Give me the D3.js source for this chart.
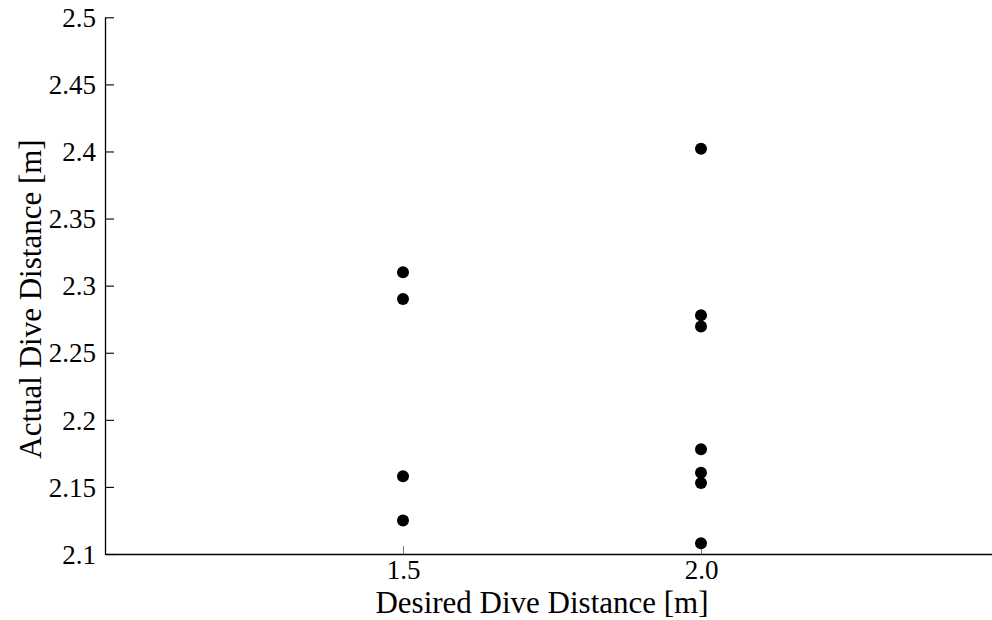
<!DOCTYPE html>
<html><head><meta charset="utf-8">
<script src="https://cdn.jsdelivr.net/npm/d3@7"></script>
<style>body{margin:0;background:#fff}svg{display:block}
svg text{font-family:'Liberation Serif','Times New Roman',serif;fill:#000}</style>
</head><body>
<svg id="c" width="992" height="620"></svg>
<script>
const desired15 = [2.31, 2.29, 2.158, 2.125];
const desired20 = [2.402, 2.278, 2.2695, 2.178, 2.1605, 2.153, 2.108];
const groups = [1.5, 2.0];
const xTickLabels = ["1.5", "2.0"];
const yTicks = [2.1, 2.15, 2.2, 2.25, 2.3, 2.35, 2.4, 2.45, 2.5];
const yTickLabels = ["2.1", "2.15", "2.2", "2.25", "2.3", "2.35", "2.4", "2.45", "2.5"];
const points = [
  ...desired15.map(v => ({x: groups[0], y: v})),
  ...desired20.map(v => ({x: groups[1], y: v}))
];

const svg = d3.select("#c");
const font = "'Liberation Serif','Times New Roman',serif";
const x = d3.scaleLinear().domain([1.0, 2.5]).range([105, 999]);
const y = d3.scaleLinear().domain([2.1, 2.5]).range([554, 17.3]);

// y axis
const ya = svg.append("g").attr("transform", "translate(105,0)")
  .call(d3.axisLeft(y).tickValues(yTicks).tickFormat((d, i) => yTickLabels[i]).tickSizeInner(-9).tickSizeOuter(0).tickPadding(9));
ya.attr("font-family", null).attr("font-size", null);
ya.select(".domain").attr("stroke", "#000").attr("stroke-width", 1.3);
ya.selectAll(".tick line").attr("stroke", "#000").attr("stroke-width", 1.1);
ya.selectAll("text").style("font-family", font).style("font-size", "27px").attr("fill", "#000").attr("dy", "0.34em");

// x axis
const xa = svg.append("g").attr("transform", "translate(0,554)")
  .call(d3.axisBottom(x).tickValues(groups).tickFormat((d, i) => xTickLabels[i]).tickSizeInner(-8).tickSizeOuter(0));
xa.attr("font-family", null).attr("font-size", null);
xa.select(".domain").attr("stroke", "#000").attr("stroke-width", 1.3);
xa.selectAll(".tick line").attr("stroke", "#777").attr("stroke-width", 1);
xa.selectAll("text").style("font-family", font).style("font-size", "27px").attr("fill", "#000")
  .attr("y", 25).attr("dy", null);

// points
svg.append("g").selectAll("circle").data(points).join("circle")
  .attr("cx", d => x(d.x)).attr("cy", d => y(d.y)).attr("r", 6).attr("fill", "#000");

// titles
svg.append("text").attr("x", 542).attr("y", 613).attr("text-anchor", "middle")
  .style("font-family", font).style("font-size", "31px").text("Desired Dive Distance [m]");
svg.append("text").attr("transform", "translate(41,299) rotate(-90)").attr("text-anchor", "middle")
  .style("font-family", font).style("font-size", "31px").text("Actual Dive Distance [m]");
</script>
</body></html>
